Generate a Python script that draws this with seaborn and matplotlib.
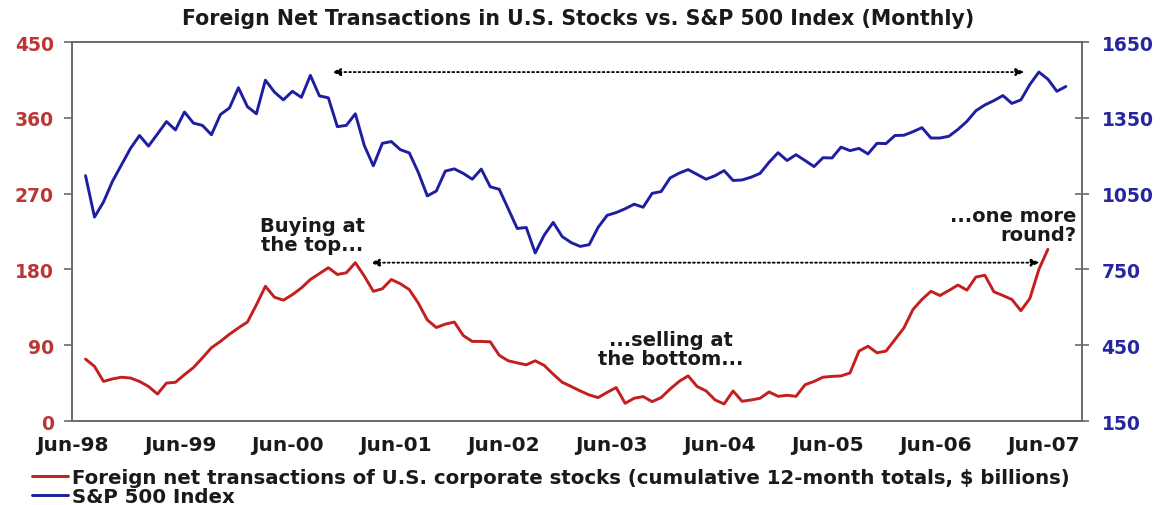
import numpy as np
import pandas as pd
import matplotlib.pyplot as plt
import seaborn as sns
from matplotlib.lines import Line2D

# eixo x em meses: 0 = Jun-98, cada ponto fica no meio do mes
# compras liquidas estrangeiras (acumulado 12 meses, US$ bi), Jul-98 .. Jun-07
foreign_net = [73.5, 64.8, 47, 50, 52, 51, 47, 41, 32, 45, 46, 55,
               63.5, 75, 87, 94.5, 103, 110.5, 117.5, 138, 160, 147, 143.5, 150,
               158, 168, 175, 182, 174, 176, 188, 172, 154, 157, 168, 163,
               156, 140, 120, 111, 115, 117.5, 101.5, 94.5, 94.5, 94, 78, 71.5,
               69, 66.7, 71.5, 66, 55.6, 46, 41, 35.7, 31, 27.8, 34, 39.7,
               21, 27, 29, 23, 27.8, 38, 47, 53.6, 41, 35.7, 25, 20.2,
               35.7, 23.4, 25, 27, 34.5, 29.3, 30.5, 29.3, 43, 47, 52, 53,
               53.5, 57, 83, 88.8, 81, 83, 96.7, 110.6, 132.4, 144.3, 154, 149,
               155, 161.4, 155.4, 171, 173, 153.4, 149, 144.3, 131, 145.5, 180, 203.8]

# S&P 500 fechamento mensal, Jul-98 .. Aug-07
sp500 = [1121, 957, 1017, 1099, 1164, 1229,
         1280, 1238, 1286, 1335, 1302, 1373, 1329, 1320, 1283, 1363, 1389, 1469,
         1394, 1366, 1499, 1452, 1421, 1455, 1431, 1518, 1437, 1429, 1315, 1320,
         1366, 1240, 1160, 1249, 1256, 1224, 1211, 1134, 1041, 1060, 1139, 1148,
         1130, 1107, 1147, 1077, 1067, 990, 912, 916, 815, 886, 936, 880,
         856, 841, 848, 917, 964, 975, 990, 1008, 996, 1051, 1058, 1112,
         1131, 1145, 1126, 1107, 1121, 1141, 1102, 1104, 1115, 1130, 1174, 1212,
         1181, 1204, 1181, 1157, 1192, 1191, 1234, 1220, 1229, 1207, 1249, 1248,
         1280, 1281, 1295, 1311, 1270, 1270, 1277, 1304, 1336, 1378, 1401, 1418,
         1438, 1407, 1421, 1482, 1531, 1503, 1455, 1474]

tick_labels = ["Jun-98", "Jun-99", "Jun-00", "Jun-01", "Jun-02",
               "Jun-03", "Jun-04", "Jun-05", "Jun-06", "Jun-07"]

legend_labels = ["Foreign net transactions of U.S. corporate stocks (cumulative 12-month totals, $ billions)",
                 "S&P 500 Index"]

df_red = pd.DataFrame({"mes": np.arange(1, len(foreign_net) + 1) + 0.5, "valor": foreign_net})
df_sp = pd.DataFrame({"mes": np.arange(1, len(sp500) + 1) + 0.5, "valor": sp500})

sns.set_style("white")
plt.rcParams["font.family"] = ["DejaVu Sans"]
plt.rcParams["font.weight"] = "bold"

vermelho = "#C41E1E"
azul = "#1E1EA0"
cinza = "#6a6a6a"
texto = "#1a1a1a"

fig = plt.figure(figsize=(11.6, 5.06), dpi=100)
ax = fig.add_axes([0.0621, 0.166, 0.8707, 0.749])
ax2 = ax.twinx()

sns.lineplot(data=df_red, x="mes", y="valor", ax=ax, color=vermelho, linewidth=2.1)
sns.lineplot(data=df_sp, x="mes", y="valor", ax=ax2, color=azul, linewidth=2.1)

ax.set_xlim(0, 112.3)
ax.set_ylim(0, 450)
ax2.set_ylim(150, 1650)
ax.set_yticks(range(0, 451, 90))
ax2.set_yticks(range(150, 1651, 300))
ax.set_xticks(range(0, 12 * len(tick_labels), 12))
ax.set_xticklabels(tick_labels)
ax.set_xlabel("")
ax.set_ylabel("")
ax2.set_ylabel("")

ax.tick_params(axis="y", direction="out", length=6, width=1.2, color=cinza, pad=7,
               labelsize=13.5, labelcolor="#BE3535")
ax.tick_params(axis="x", direction="out", length=4, width=1.2, color=cinza, pad=6,
               labelsize=14.5, labelcolor=texto)
ax2.tick_params(axis="y", direction="inout", length=10, width=1.2, color=cinza, pad=9,
                labelsize=13.5, labelcolor="#2626A0")

for a in (ax, ax2):
    for s in a.spines.values():
        s.set_color(cinza)
        s.set_linewidth(1.2)

# setas pontilhadas ligando os picos (pico de 2000/2001 contra o de 2007)
pico_sp = max(sp500)
pico_red = max(foreign_net[:60])
seta = dict(arrowstyle="<|-|>,head_length=0.5,head_width=0.22", linestyle=(0, (1, 1.6)),
            lw=1.3, color="black", shrinkA=0, shrinkB=0)
ax2.annotate("", xy=(28.9, pico_sp), xytext=(105.9, pico_sp), arrowprops=seta)
ax.annotate("", xy=(33.2, pico_red), xytext=(107.6, pico_red), arrowprops=seta)

ax.text(26.7, 221, "Buying at\nthe top...", ha="center", va="center",
        fontsize=14, color=texto, linespacing=1.0)
ax.text(66.6, 86, "...selling at\nthe bottom...", ha="center", va="center",
        fontsize=14, color=texto, linespacing=1.0)
ax.text(111.7, 233, "...one more\nround?", ha="right", va="center", multialignment="right",
        fontsize=14, color=texto, linespacing=1.0)

fig.text(0.498, 0.9625, "Foreign Net Transactions in U.S. Stocks vs. S&P 500 Index (Monthly)",
         ha="center", va="center", fontsize=14.8, color=texto)

handles = [Line2D([0], [0], color=vermelho, lw=2.1), Line2D([0], [0], color=azul, lw=2.1)]
fig.legend(handles, legend_labels, loc="upper left", bbox_to_anchor=(0.0276, 0.074),
           frameon=False, fontsize=14.2, handlelength=1.8, handletextpad=0.25,
           labelspacing=0.0, borderpad=0, borderaxespad=0, labelcolor=texto)

fig.savefig("out.png", dpi=100)
